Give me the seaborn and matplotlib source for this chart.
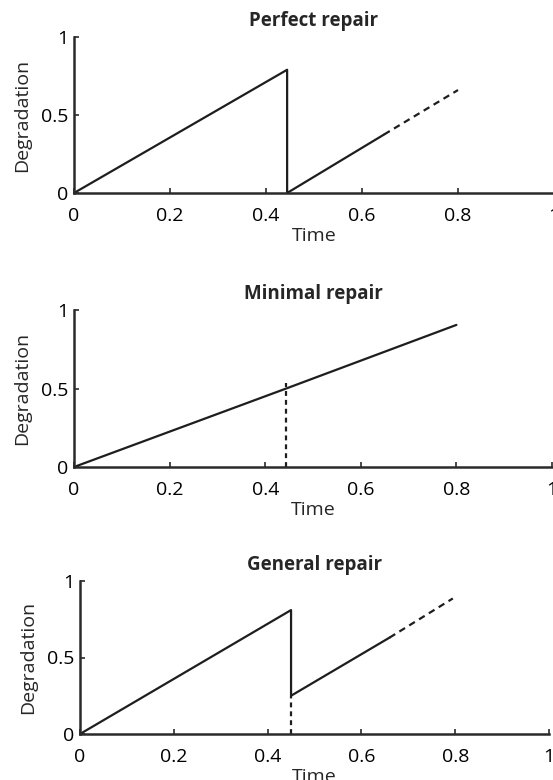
import matplotlib
matplotlib.use("Agg")
import matplotlib.pyplot as plt
from matplotlib.ticker import FixedLocator, FixedFormatter
import seaborn as sns

sns.set_style("ticks")
plt.rcParams["font.family"] = ["Open Sans", "DejaVu Sans"]

# Panel titles
titles = ["Perfect repair", "Minimal repair", "General repair"]

# Perfect repair: degradation grows, drops to zero at the repair, grows again
perfect_t = [0.0, 0.444, 0.444, 0.646]
perfect_d = [0.0, 0.79, 0.0, 0.375]
perfect_dash_t = [0.646, 0.80]
perfect_dash_d = [0.375, 0.66]
perfect_mark_t = []
perfect_mark_d = []

# Minimal repair: repair leaves degradation unchanged
minimal_t = [0.0, 0.444, 0.80]
minimal_d = [0.0, 0.50, 0.905]
minimal_dash_t = []
minimal_dash_d = []
minimal_mark_t = [0.444, 0.444]
minimal_mark_d = [0.0, 0.535]

# General repair: repair brings degradation part of the way down
general_t = [0.0, 0.45, 0.45, 0.66]
general_d = [0.0, 0.81, 0.25, 0.63]
general_dash_t = [0.66, 0.795]
general_dash_d = [0.63, 0.886]
general_mark_t = [0.45, 0.45]
general_mark_d = [0.0, 0.25]

x_ticks = [0, 0.2, 0.4, 0.6, 0.8, 1]
x_labels = ["0", "0.2", "0.4", "0.6", "0.8", "1"]
y_ticks = [0, 0.5, 1]
y_labels = ["0", "0.5", "1"]

panels = [
    (perfect_t, perfect_d, perfect_dash_t, perfect_dash_d, perfect_mark_t, perfect_mark_d),
    (minimal_t, minimal_d, minimal_dash_t, minimal_dash_d, minimal_mark_t, minimal_mark_d),
    (general_t, general_d, general_dash_t, general_dash_d, general_mark_t, general_mark_d),
]

# axes boxes in pixels (left, top, right, bottom), turned into figure fractions
W, H = 553, 780
boxes_px = [
    (74, 37, 554, 193),
    (74, 310, 552, 467),
    (80, 581, 549, 734),
]
rects = [(l / W, 1 - b / H, (r - l) / W, (b - t) / H) for l, t, r, b in boxes_px]

line_color = "#1e1e1e"
spine_color = "#2a2a2a"
fs = 14

fig = plt.figure(figsize=(W / 100, H / 100), dpi=100)

for title, rect, (t, d, dt, dd, mt, md) in zip(titles, rects, panels):
    ax = fig.add_axes(rect)
    sns.lineplot(x=t, y=d, sort=False, estimator=None, color=line_color,
                 lw=1.6, ax=ax, clip_on=False)
    if dt:
        sns.lineplot(x=dt, y=dd, sort=False, estimator=None, color=line_color,
                     lw=1.6, ax=ax, clip_on=False, linestyle=(0, (3.0, 2.2)))
    if mt:
        sns.lineplot(x=mt, y=md, sort=False, estimator=None, color=line_color,
                     lw=1.6, ax=ax, clip_on=False, linestyle=(0, (2.2, 1.8)))
    ax.set_xlim(0, 1)
    ax.set_ylim(0, 1)
    ax.xaxis.set_major_locator(FixedLocator(x_ticks))
    ax.xaxis.set_major_formatter(FixedFormatter(x_labels))
    ax.yaxis.set_major_locator(FixedLocator(y_ticks))
    ax.yaxis.set_major_formatter(FixedFormatter(y_labels))
    ax.tick_params(direction="in", length=3.5, width=1.2, colors=spine_color,
                   labelcolor="black", labelsize=fs)
    ax.tick_params(axis="x", pad=10)
    ax.tick_params(axis="y", pad=4)
    sns.despine(ax=ax)
    for s in ("left", "bottom"):
        ax.spines[s].set_linewidth(1.8)
        ax.spines[s].set_color(spine_color)
    ax.set_xlabel("Time", fontsize=fs, labelpad=1.5)
    ax.set_ylabel("Degradation", fontsize=fs, labelpad=7)
    ax.set_title(title, fontsize=13.5, fontweight="bold", pad=8)

fig.savefig("out.png", dpi=100)
